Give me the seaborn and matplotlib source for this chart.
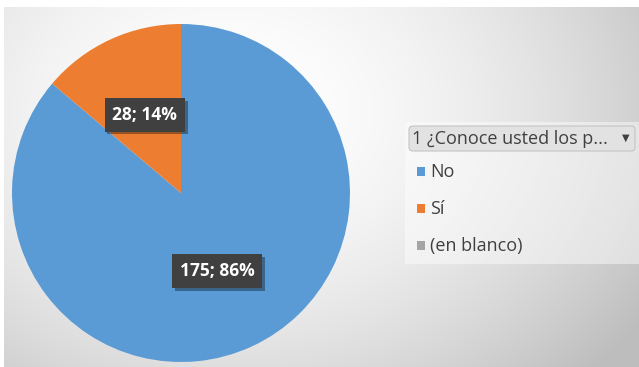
import numpy as np
import matplotlib
matplotlib.use("Agg")
import matplotlib.pyplot as plt
from matplotlib.patches import Rectangle, FancyBboxPatch
import matplotlib.patheffects as pe
import seaborn as sns

# Survey answers and their counts
categories = ["No", "Sí", "(en blanco)"]
counts = [175, 28, 0]
legend_title = "1 ¿Conoce usted los p..."
colors = ["#5B9BD5", "#ED7D31", "#A5A5A5"]

sns.set_theme(style="white")
palette = sns.color_palette(colors)
plt.rcParams["font.family"] = ["Open Sans", "DejaVu Sans"]

W, H = 639, 367
fig = plt.figure(figsize=(W / 100, H / 100), dpi=100)

# Background with a soft radial gray gradient (pixel coordinates)
bg = fig.add_axes([0, 0, 1, 1])
bg.set_axis_off()
yy, xx = np.mgrid[0:H, 0:W]
d = np.sqrt(((xx - 230) / 430.0) ** 2 + ((yy - 110) / 330.0) ** 2)
v = 1 - 0.2 * np.clip(d, 0, 1.15) ** 1.8
v[:7, :] = 1.0
v[:, :4] = 1.0
bg.imshow(np.dstack([v, v, v]), extent=[0, W, H, 0], aspect="auto", zorder=0)
bg.set_xlim(0, W)
bg.set_ylim(H, 0)

# Pie chart
cx, cy, r = 181, 193, 169
ax = fig.add_axes([(cx - r) / W, 1 - (cy + r) / H, 2 * r / W, 2 * r / H])
wedges, _ = ax.pie(counts, colors=palette, startangle=90, counterclock=False,
                   radius=1, wedgeprops=dict(linewidth=0))
ax.set_xlim(-1, 1)
ax.set_ylim(-1, 1)
ax.set_aspect("auto")
ax.set_axis_off()

# Data labels in dark boxes with a drop shadow
total = sum(counts)
for w, c in zip(wedges, counts):
    if c == 0:
        continue
    mid = np.deg2rad((w.theta1 + w.theta2) / 2)
    x, y = 0.51 * np.cos(mid), 0.51 * np.sin(mid)
    label = f"{c}; {100 * c / total:.0f}%"
    t = ax.text(x, y, label, ha="center", va="center", fontsize=12.5,
                fontweight="bold", color="white",
                bbox=dict(boxstyle="square,pad=0.45", fc="#404040", ec="none"))
    t.get_bbox_patch().set_path_effects(
        [pe.SimplePatchShadow(offset=(2, -2), shadow_rgbFace="black", alpha=0.35),
         pe.Normal()])

# Legend panel with filter header
bg.add_patch(Rectangle((405, 122), 234, 142, fc="white", ec="none", alpha=0.45, zorder=2))
bg.add_patch(FancyBboxPatch((409, 126), 226, 25,
                            boxstyle="round,pad=0,rounding_size=4",
                            fc="#e2e2e2", ec="#c4c4c4", lw=0.8, zorder=3))
bg.text(412, 139, legend_title, ha="left", va="center", fontsize=13,
        color="#404040", zorder=4)
bg.text(626, 138, "▼", ha="center", va="center", fontsize=7,
        color="#404040", family="DejaVu Sans", zorder=4)

item_y = [172, 209, 246]
for name, col, yv in zip(categories, palette, item_y):
    bg.add_patch(Rectangle((417, yv - 5), 8, 9, fc=col, ec="none", zorder=3))
    bg.text(430, yv, name, ha="left", va="center", fontsize=13,
            color="#404040", zorder=4)

fig.savefig("out.png", dpi=100)
